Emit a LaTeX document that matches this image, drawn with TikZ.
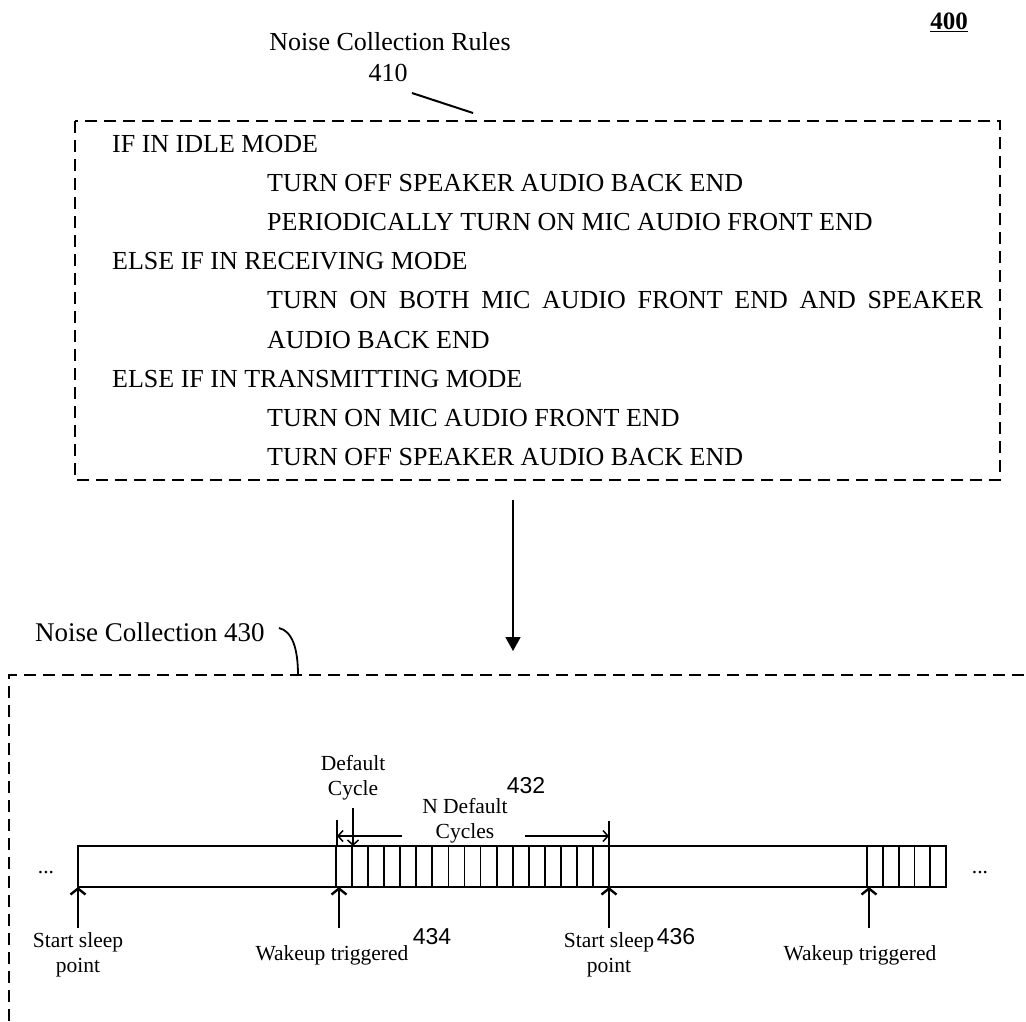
\documentclass[tikz,border=0pt]{standalone}
\usepackage{fontspec}
\setmainfont{Liberation Serif}
\newfontfamily\numfont{Liberation Sans}
\usetikzlibrary{arrows.meta}
\begin{document}
\begin{tikzpicture}[x=1pt,y=-1pt,
  rule/.style={anchor=west,inner sep=0pt,font=\fontsize{26}{30}\selectfont},
  lbl/.style={inner sep=0pt,align=center,font=\fontsize{21.5}{25}\selectfont},
  big/.style={inner sep=0pt,align=center,font=\fontsize{26}{30}\selectfont},
  num/.style={inner sep=0pt,font=\numfont\fontsize{23}{26}\selectfont},
  dbox/.style={dash pattern=on 12pt off 7pt,line width=1.8pt},
  barline/.style={line width=1.8pt},
  uparr/.style={line width=2.6pt,-{Straight Barb[length=6pt,width=15pt,line width=2.4pt]}},
  thinarr/.style={line width=1.6pt,-{Straight Barb[length=5pt,width=11pt,line width=1.5pt]}},
  mainarr/.style={line width=1.8pt,-{Triangle[length=14pt,width=15pt]}}
]
\useasboundingbox (0,0) rectangle (1026,1021);
% figure number
\node[inner sep=0pt,font=\fontsize{25}{28}\selectfont\bfseries] (fig) at (949,22) {\underline{400}};
% title of rules
\node[big] (rtitle) at (390,42) {Noise Collection Rules};
\node[big] (r410) at (388,73) {410};
\coordinate (l1) at (412,93);
\coordinate (l2) at (473,113);
\draw[line width=2pt] (l1) -- (l2);
% rules box
\draw[dbox] (75,121) rectangle (1000,480);
\node[rule] (t1) at (112,144) {IF IN IDLE MODE};
\node[rule] (t2) at (267,183) {TURN OFF SPEAKER AUDIO BACK END};
\node[rule] (t3) at (267,222) {PERIODICALLY TURN ON MIC AUDIO FRONT END};
\node[rule] (t4) at (112,261) {ELSE IF IN RECEIVING MODE};
\node[rule] (t5) at (267,300) {\makebox[716pt][s]{TURN ON BOTH MIC AUDIO FRONT END AND SPEAKER}};
\node[rule] (t6) at (267,340) {AUDIO BACK END};
\node[rule] (t7) at (112,379) {ELSE IF IN TRANSMITTING MODE};
\node[rule] (t8) at (267,418) {TURN ON MIC AUDIO FRONT END};
\node[rule] (t9) at (267,457) {TURN OFF SPEAKER AUDIO BACK END};
% main arrow
\coordinate (m1) at (513,500);
\coordinate (m2) at (513,651);
\draw[mainarr] (m1) -- (m2);
% noise collection box
\node[big,anchor=west,font=\fontsize{27}{30}\selectfont] (nc) at (35,632) {Noise Collection 430};
\draw[dbox] (9,1021) -- (9,675) -- (1026,675);
\coordinate (c1) at (279,628);
\coordinate (c2) at (298,675);
\draw[line width=1.8pt] (c1) .. controls (292,631) and (298,648) .. (c2);
% bar
\draw[barline] (78,846) rectangle (946,887);
\foreach \k in {0,...,17} \draw[barline] ({336+16.06*\k},846) -- ({336+16.06*\k},887);
\foreach \k in {0,...,4} \draw[barline] ({867+15.8*\k},846) -- ({867+15.8*\k},887);
\node[lbl] (dl) at (46,873) {...};
\node[lbl] (dr) at (980,873) {...};
% up arrows
\coordinate (a1) at (78,928);  \coordinate (b1) at (78,887);
\coordinate (a2) at (339,928); \coordinate (b2) at (339,887);
\coordinate (a3) at (609,928); \coordinate (b3) at (609,887);
\coordinate (a4) at (869,928); \coordinate (b4) at (869,887);
\draw[uparr] (a1) -- (b1);
\draw[uparr] (a2) -- (b2);
\draw[uparr] (a3) -- (b3);
\draw[uparr] (a4) -- (b4);
% default cycle markers
\coordinate (dc1) at (353,808); \coordinate (dc2) at (353,846);
\draw[thinarr] (dc1) -- (dc2);
\coordinate (h1) at (402,836); \coordinate (h2) at (337,836);
\draw[thinarr] (h1) -- (h2);
\coordinate (k1) at (337,820); \coordinate (k2) at (337,846);
\draw[line width=1.6pt] (k1) -- (k2);
\coordinate (h3) at (525,836); \coordinate (h4) at (609,836);
\draw[thinarr] (h3) -- (h4);
\coordinate (k3) at (609,821); \coordinate (k4) at (609,846);
\draw[line width=1.6pt] (k3) -- (k4);
% labels
\node[lbl] (ldc) at (353,778) {Default\\Cycle};
\node[lbl] (lnd) at (465,821) {N Default\\Cycles};
\node[num] (n432) at (526,786) {432};
\node[lbl] (ls1) at (78,955) {Start sleep\\point};
\node[lbl] (lw1) at (332,955) {Wakeup triggered};
\node[num] (n434) at (432,937) {434};
\node[lbl] (ls2) at (609,955) {Start sleep\\point};
\node[num] (n436) at (676,937) {436};
\node[lbl] (lw2) at (860,955) {Wakeup triggered};
\end{tikzpicture}
\end{document}
